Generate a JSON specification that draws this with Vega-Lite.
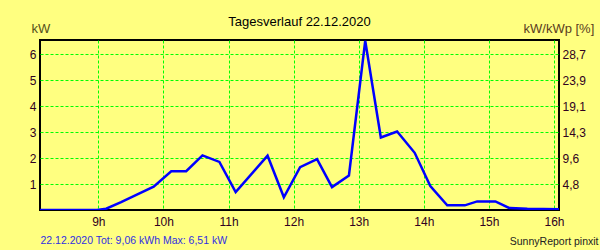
{
  "$schema": "https://vega.github.io/schema/vega-lite/v6.json",
  "width": 519,
  "height": 170,
  "autosize": {"type": "none"},
  "padding": {"left": 40, "top": 40, "right": 41, "bottom": 40},
  "background": "#ffff80",
  "config": {
    "font": "Liberation Sans",
    "view": {"stroke": "#000000", "strokeWidth": 2, "fill": "#ffff80"}
  },
  "title": {
    "text": "Tagesverlauf 22.12.2020",
    "anchor": "middle",
    "frame": "group",
    "fontSize": 13,
    "fontWeight": "normal",
    "color": "#000000",
    "baseline": "alphabetic",
    "offset": 7,
    "dy": 24
  },
  "data": {
    "values": [
      {"hour": 8.104, "kw": 0},
      {"hour": 8.98, "kw": 0},
      {"hour": 9.12, "kw": 0.05},
      {"hour": 9.35, "kw": 0.3},
      {"hour": 9.6, "kw": 0.6},
      {"hour": 9.85, "kw": 0.9},
      {"hour": 10.12, "kw": 1.49},
      {"hour": 10.35, "kw": 1.49},
      {"hour": 10.6, "kw": 2.1},
      {"hour": 10.86, "kw": 1.85},
      {"hour": 11.11, "kw": 0.69},
      {"hour": 11.6, "kw": 2.09},
      {"hour": 11.85, "kw": 0.49},
      {"hour": 12.1, "kw": 1.65},
      {"hour": 12.36, "kw": 1.96},
      {"hour": 12.59, "kw": 0.88},
      {"hour": 12.85, "kw": 1.33},
      {"hour": 13.1, "kw": 6.51},
      {"hour": 13.34, "kw": 2.79},
      {"hour": 13.59, "kw": 3.02},
      {"hour": 13.86, "kw": 2.2},
      {"hour": 14.1, "kw": 0.92},
      {"hour": 14.36, "kw": 0.18},
      {"hour": 14.63, "kw": 0.18},
      {"hour": 14.82, "kw": 0.33},
      {"hour": 15.1, "kw": 0.33},
      {"hour": 15.31, "kw": 0.08},
      {"hour": 15.59, "kw": 0.05},
      {"hour": 16.077, "kw": 0.03}
    ]
  },
  "layer": [
    {
      "mark": {"type": "line", "color": "#0000ff", "strokeWidth": 2.5, "clip": true},
      "encoding": {
        "x": {
          "field": "hour", "type": "quantitative",
          "scale": {"domain": [8.104, 16.077], "nice": false, "zero": false},
          "axis": {
            "orient": "bottom",
            "values": [9, 10, 11, 12, 13, 14, 15, 16],
            "labelExpr": "datum.value + 'h'",
            "domain": false, "ticks": false, "tickSize": 0,
            "grid": true, "gridColor": "#00ff00", "gridDash": [3, 2], "gridWidth": 1, "gridOpacity": 1,
            "labelFontSize": 12, "labelColor": "#300020", "labelPadding": 6,
            "labelFlush": false, "labelOverlap": false,
            "title": "22.12.2020 Tot: 9,06 kWh Max: 6,51 kW",
            "titleColor": "#3030e0", "titleFontSize": 10.5, "titleFontWeight": "normal",
            "titleAnchor": "start", "titleAlign": "left", "titleBaseline": "alphabetic",
            "titleX": 0, "titleY": 33
          }
        },
        "y": {
          "field": "kw", "type": "quantitative",
          "scale": {"domain": [0, 6.54], "nice": false, "zero": true},
          "axis": {
            "orient": "left",
            "values": [1, 2, 3, 4, 5, 6],
            "domain": false, "ticks": false, "tickSize": 0,
            "grid": true, "gridColor": "#00ff00", "gridDash": [3, 2], "gridWidth": 1, "gridOpacity": 1,
            "labelFontSize": 12, "labelColor": "#300020", "labelPadding": 4,
            "labelFlush": false, "labelOverlap": false,
            "title": "kW", "titleColor": "#55501a", "titleFontSize": 13, "titleFontWeight": "normal",
            "titleAngle": 0, "titleAlign": "left", "titleBaseline": "alphabetic",
            "titleX": -9, "titleY": -8
          }
        }
      }
    },
    {
      "mark": {"type": "line", "opacity": 0},
      "encoding": {
        "x": {
          "field": "hour", "type": "quantitative",
          "axis": {
            "orient": "top",
            "domain": false, "ticks": false, "labels": false, "grid": false,
            "title": "SunnyReport pinxit",
            "titleColor": "#222222", "titleFontSize": 10.5, "titleFontWeight": "normal",
            "titleAlign": "right", "titleBaseline": "alphabetic",
            "titleX": 558, "titleY": 204
          }
        },
        "y": {
          "field": "kw", "type": "quantitative",
          "axis": {
            "orient": "right",
            "values": [1, 2, 3, 4, 5, 6],
            "labelExpr": "replace(format(datum.value * 4.78, '.1f'), '.', ',')",
            "domain": false, "ticks": false, "tickSize": 0, "grid": false,
            "labelFontSize": 12, "labelColor": "#300020", "labelPadding": 3,
            "labelFlush": false, "labelOverlap": false,
            "title": "kW/kWp [%]", "titleColor": "#5a3c1e", "titleFontSize": 13, "titleFontWeight": "normal",
            "titleAngle": 0, "titleAlign": "left", "titleBaseline": "alphabetic",
            "titleX": -36, "titleY": -8
          }
        }
      }
    }
  ],
  "resolve": {"axis": {"x": "independent", "y": "independent"}}
}
